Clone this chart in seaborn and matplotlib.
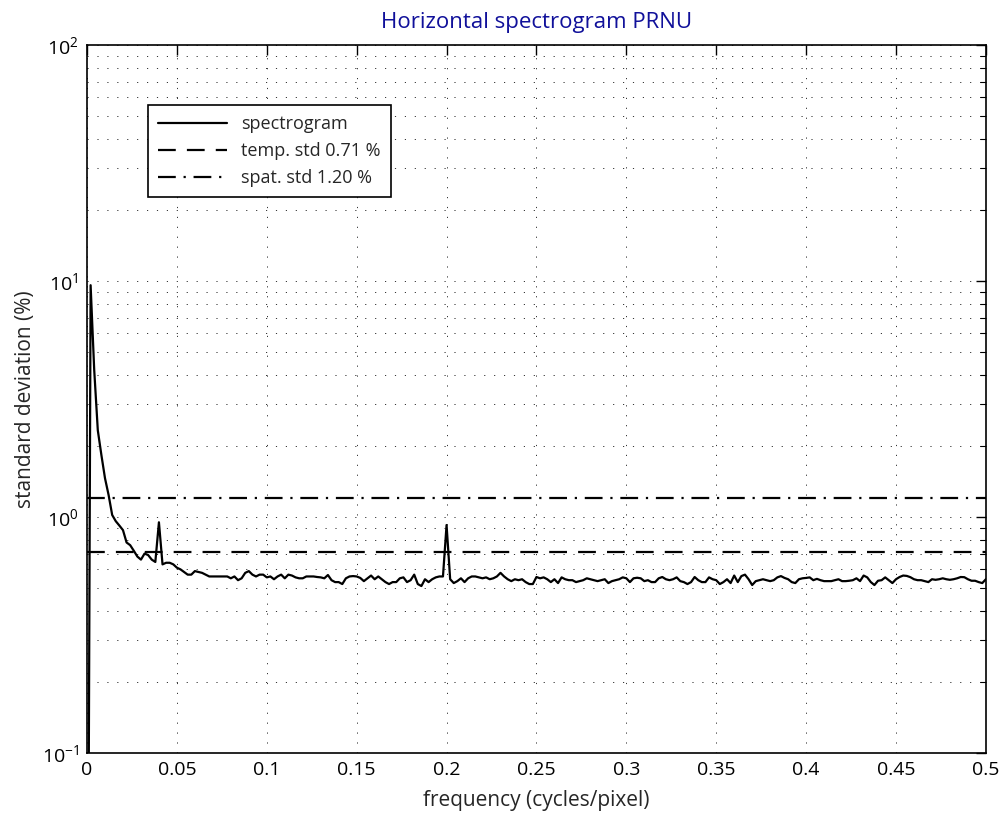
import matplotlib
matplotlib.use('Agg')
import matplotlib.pyplot as plt
from matplotlib.ticker import FixedLocator, FuncFormatter, LogLocator
import seaborn as sns
import numpy as np
import pandas as pd

sns.set_style('white')
plt.rcParams['font.family'] = ['Open Sans', 'DejaVu Sans']

# spectrogram values (%), one per frequency bin (bin width 1/500 cycles/pixel)
spectrogram = [
    0.001, 9.6, 4.2, 2.33, 1.83, 1.46, 1.24, 1.02, 0.96, 0.92,
    0.88, 0.78, 0.76, 0.72, 0.68, 0.66, 0.70, 0.69, 0.66, 0.645,
    0.95, 0.63, 0.64, 0.64, 0.63, 0.61, 0.60, 0.585, 0.57, 0.57,
    0.59, 0.585, 0.58, 0.57, 0.56, 0.56, 0.56, 0.56, 0.56, 0.56,
    0.55, 0.56, 0.54, 0.55, 0.58, 0.59, 0.57, 0.56, 0.57, 0.57,
    0.555, 0.56, 0.545, 0.56, 0.57, 0.55, 0.57, 0.565, 0.555, 0.55,
    0.55, 0.56, 0.56, 0.56, 0.557, 0.555, 0.55, 0.568, 0.54, 0.53,
    0.53, 0.52, 0.55, 0.56, 0.562, 0.56, 0.552, 0.535, 0.55, 0.565,
    0.545, 0.56, 0.545, 0.53, 0.52, 0.53, 0.53, 0.55, 0.555, 0.53,
    0.54, 0.57, 0.52, 0.51, 0.545, 0.53, 0.545, 0.555, 0.56, 0.56,
    0.925, 0.545, 0.525, 0.535, 0.55, 0.53, 0.55, 0.56, 0.56, 0.555,
    0.55, 0.555, 0.545, 0.55, 0.56, 0.58, 0.56, 0.545, 0.535, 0.545,
    0.54, 0.545, 0.53, 0.52, 0.52, 0.557, 0.55, 0.555, 0.545, 0.53,
    0.545, 0.525, 0.555, 0.545, 0.54, 0.54, 0.53, 0.535, 0.54, 0.55,
    0.545, 0.54, 0.535, 0.54, 0.545, 0.525, 0.535, 0.54, 0.545, 0.555,
    0.55, 0.53, 0.55, 0.553, 0.55, 0.535, 0.54, 0.53, 0.53, 0.55,
    0.557, 0.545, 0.54, 0.545, 0.555, 0.535, 0.53, 0.52, 0.53, 0.557,
    0.54, 0.53, 0.53, 0.555, 0.545, 0.54, 0.52, 0.53, 0.545, 0.525,
    0.565, 0.53, 0.562, 0.57, 0.545, 0.515, 0.535, 0.54, 0.545, 0.54,
    0.535, 0.54, 0.555, 0.562, 0.552, 0.545, 0.53, 0.525, 0.545, 0.55,
    0.552, 0.555, 0.54, 0.547, 0.54, 0.535, 0.535, 0.535, 0.54, 0.545,
    0.535, 0.535, 0.537, 0.54, 0.55, 0.535, 0.565, 0.555, 0.53, 0.515,
    0.537, 0.54, 0.555, 0.54, 0.525, 0.545, 0.557, 0.565, 0.563, 0.556,
    0.545, 0.54, 0.54, 0.535, 0.53, 0.545, 0.542, 0.545, 0.55, 0.545,
    0.542, 0.545, 0.55, 0.557, 0.556, 0.545, 0.537, 0.537, 0.53, 0.525, 0.545,
]
frequency = np.arange(len(spectrogram)) / 500.0

temp_std = 0.71
spat_std = 1.20

x_ticks = [0, 0.05, 0.1, 0.15, 0.2, 0.25, 0.3, 0.35, 0.4, 0.45, 0.5]

df = pd.DataFrame({'frequency': frequency, 'spectrogram': spectrogram})

fig = plt.figure(figsize=(10.06, 8.14), dpi=100)
ax = fig.add_axes([0.0865, 0.0749, 0.8935, 0.8698])

sns.lineplot(data=df, x='frequency', y='spectrogram', ax=ax, color='k',
             linewidth=1.6, label='spectrogram')
ax.axhline(temp_std, color='k', linewidth=1.6, linestyle=(0, (8, 5)),
           label='temp. std %.2f %%' % temp_std)
ax.axhline(spat_std, color='k', linewidth=1.6, linestyle=(0, (8, 3.5, 1, 3.5)),
           label='spat. std %.2f %%' % spat_std)

ax.set_yscale('log')
ax.set_xlim(0, 0.5)
ax.set_ylim(0.1, 100)

ax.xaxis.set_major_locator(FixedLocator(x_ticks))
ax.xaxis.set_major_formatter(FuncFormatter(lambda v, p: '%g' % v))
ax.yaxis.set_major_locator(LogLocator(base=10, numticks=10))
ax.yaxis.set_minor_locator(LogLocator(base=10, subs=np.arange(2, 10), numticks=20))

ax.grid(True, which='major', axis='both', color='#333333', linewidth=0.7,
        linestyle=(0, (1.2, 9)))
ax.grid(True, which='minor', axis='y', color='#333333', linewidth=0.7,
        linestyle=(0, (1.2, 9)))

ax.tick_params(which='both', direction='in', top=True, right=True,
               labelsize=14, colors='k')
ax.tick_params(which='major', length=7, width=1, pad=6)
ax.tick_params(which='minor', length=4, width=0.8)
for s in ax.spines.values():
    s.set_color('k')
    s.set_linewidth(1.2)

ax.set_xlabel('frequency (cycles/pixel)', fontsize=15, labelpad=8)
ax.set_ylabel('standard deviation (%)', fontsize=15, labelpad=4)
ax.set_title('Horizontal spectrogram PRNU', fontsize=16, color='#10109a', pad=12)

leg = ax.legend(loc='upper left', bbox_to_anchor=(0.068, 0.915), fontsize=13,
                frameon=True, fancybox=False, edgecolor='k', framealpha=1,
                handlelength=3.8, borderpad=0.55, labelspacing=0.5,
                borderaxespad=0)
leg.get_frame().set_linewidth(1.2)

fig.savefig('out.png', dpi=100)
